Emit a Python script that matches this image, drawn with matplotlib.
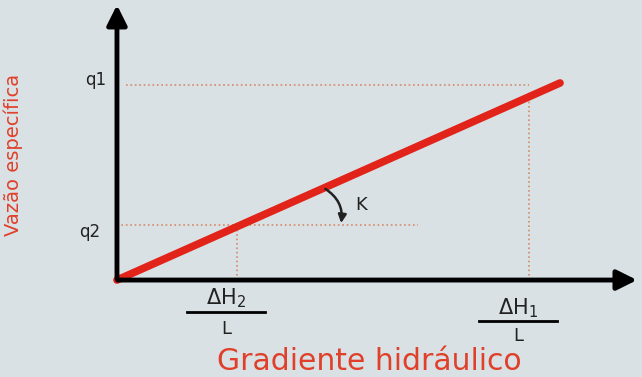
import numpy as np
import matplotlib
matplotlib.use('Agg')
import matplotlib.pyplot as plt

# values (arbitrary units)
gradiente = [0.0, 1.0]        # hydraulic gradient along the red line
vazao = [0.0, 1.0]            # specific discharge along the red line
i_vals = [0.93, 0.27]         # dH1/L, dH2/L
q_vals = [0.99, 0.28]         # q1, q2
q_labels = ['q1', 'q2']
i_labels = [r'$\Delta$H$_1$', r'$\Delta$H$_2$']
q2_guide_end = 0.68

bg = '#d9e1e4'
red = '#e2231a'
label_red = '#e0402a'
guide = '#d48a6a'

fig = plt.figure(figsize=(6.42, 3.77), dpi=100, facecolor=bg)
ax = fig.add_axes([0, 0, 1, 1])
ax.set_facecolor(bg)
ax.set_xlim(-0.264, 1.185)
ax.set_ylim(-0.492, 1.421)
ax.axis('off')

# dotted guide lines
ax.plot([0.02, i_vals[0]], [q_vals[0], q_vals[0]], ls=':', lw=1.2, color=guide)
ax.plot([i_vals[0], i_vals[0]], [0, q_vals[0] - 0.03], ls=':', lw=1.2, color=guide)
ax.plot([0.0, q2_guide_end], [q_vals[1], q_vals[1]], ls=':', lw=1.2, color=guide)
ax.plot([i_vals[1], i_vals[1]], [0, q_vals[1]], ls=':', lw=1.2, color=guide)

# axes with arrows
ax.annotate('', xy=(0.0, 1.41), xytext=(0.0, -0.005),
            arrowprops=dict(arrowstyle='-|>', lw=3.5, color='black', mutation_scale=30))
ax.annotate('', xy=(1.18, 0.0), xytext=(-0.005, 0.0),
            arrowprops=dict(arrowstyle='-|>', lw=3.5, color='black', mutation_scale=30))

# red line
ax.plot(gradiente, vazao, color=red, lw=5.5, solid_capstyle='round')

# angle arrow K
ax.annotate('', xy=(0.505, 0.275), xytext=(0.465, 0.47),
            arrowprops=dict(arrowstyle='-|>', lw=1.8, color='#222222', mutation_scale=12,
                            connectionstyle='arc3,rad=-0.35'))
ax.text(0.55, 0.38, 'K', fontsize=13, ha='center', va='center', color='#222222')

# q labels
ax.text(-0.047, 1.015, q_labels[0], fontsize=12, ha='center', va='center', color='#222222')
ax.text(-0.061, 0.244, q_labels[1], fontsize=12, ha='center', va='center', color='#222222')

# gradient fraction labels
frac_y = [(-0.142, -0.208, -0.285), (-0.091, -0.162, -0.250)]
for xi, lab, (yt, yb, yl) in zip(i_vals, i_labels, frac_y):
    xc = xi - 0.024
    ax.text(xc, yt, lab, fontsize=15, ha='center', va='center', color='#222222')
    ax.plot([xc - 0.088, xc + 0.088], [yb, yb], color='black', lw=2)
    ax.text(xc, yl, 'L', fontsize=13, ha='center', va='center', color='#222222')

# axis titles
ax.text(0.57, -0.415, 'Gradiente hidráulico', fontsize=21.5, ha='center', va='center',
        color=label_red)
ax.text(-0.235, 0.635, 'Vazão específica', fontsize=14, rotation=90,
        ha='center', va='center', color=label_red)

fig.savefig('out.png', dpi=100, facecolor=bg)
